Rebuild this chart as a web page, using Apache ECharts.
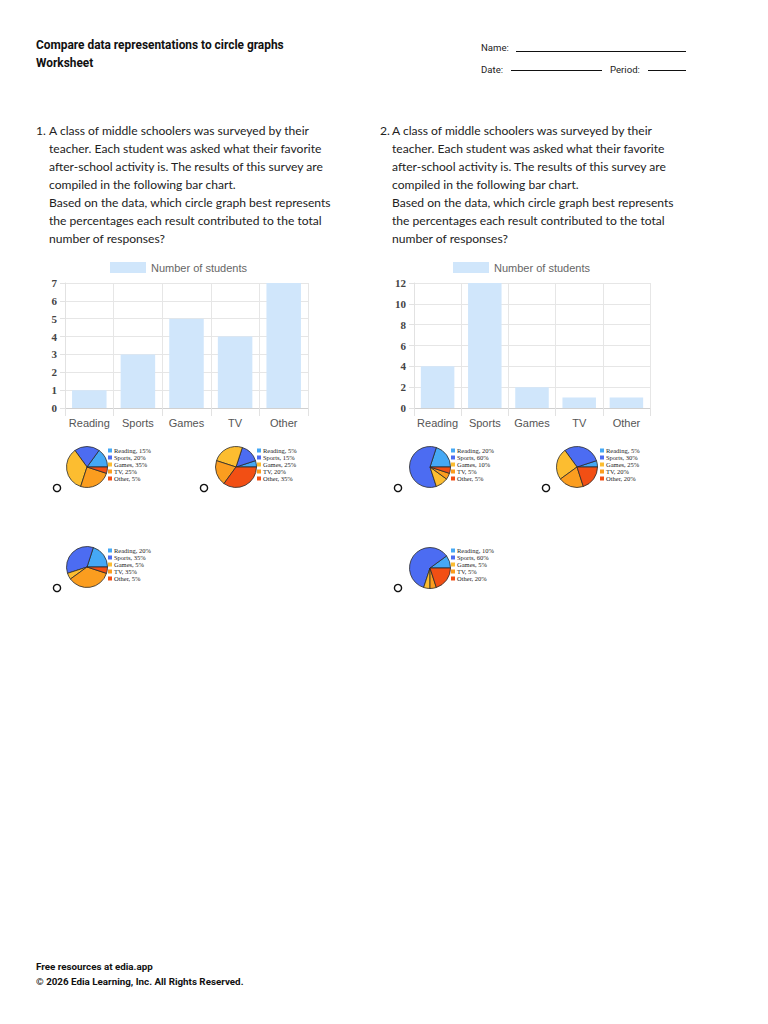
<!DOCTYPE html>
<html>
<head>
<meta charset="utf-8">
<script src="https://cdn.jsdelivr.net/npm/echarts@6/dist/echarts.min.js"></script>
<style>
html,body{margin:0;padding:0;background:#fff;}
#c{width:768px;height:1024px;}
</style>
</head>
<body>
<div id="c"></div>
<script>
// ---- data ----
const categories = ['Reading', 'Sports', 'Games', 'TV', 'Other'];
const q1Counts = [1, 3, 5, 4, 7];
const q2Counts = [4, 12, 2, 1, 1];
const q1AxisMax = 7, q1AxisStep = 1;
const q2AxisMax = 12, q2AxisStep = 2;
const q1OptionA = [15, 20, 35, 25, 5];
const q1OptionB = [5, 15, 25, 20, 35];
const q1OptionC = [20, 35, 5, 35, 5];
const q2OptionA = [20, 60, 10, 5, 5];
const q2OptionB = [5, 30, 25, 20, 20];
const q2OptionC = [10, 60, 5, 5, 20];
const seriesName = 'Number of students';
const sliceColors = ['#45a8f5', '#4c6cf2', '#fcbd30', '#fb9d1f', '#f24f14'];

const q1Lines = [
  'A class of middle schoolers was surveyed by their',
  'teacher. Each student was asked what their favorite',
  'after-school activity is. The results of this survey are',
  'compiled in the following bar chart.',
  'Based on the data, which circle graph best represents',
  'the percentages each result contributed to the total',
  'number of responses?'
];
const q2Lines = q1Lines;

// ---- layout ----
const bodyFont = '12.1px Lato';
const graphics = [];
function txt(x, y, text, font, fill, align) {
  graphics.push({type: 'text', silent: true, style: {x: x, y: y, text: text, font: font, fill: fill || '#222', align: align || 'left', verticalAlign: 'middle'}});
}
function line(x1, y1, x2, y2) {
  graphics.push({type: 'line', silent: true, shape: {x1: x1, y1: y1, x2: x2, y2: y2}, style: {stroke: '#111', lineWidth: 1}});
}
function radio(cx, cy) {
  graphics.push({type: 'circle', silent: true, shape: {cx: cx, cy: cy, r: 3.6}, style: {fill: '#fff', stroke: '#111', lineWidth: 1.4}});
}

txt(36, 45, 'Compare data representations to circle graphs', 'bold 11.9px Roboto', '#111');
txt(36, 63, 'Worksheet', 'bold 11.9px Roboto', '#111');
txt(481, 47, 'Name:', '9.6px Roboto', '#222');
line(516, 51.5, 686, 51.5);
txt(481, 69, 'Date:', '9.6px Roboto', '#222');
line(511, 70.5, 602, 70.5);
txt(610, 69, 'Period:', '9.6px Roboto', '#222');
line(648, 70.5, 686, 70.5);

txt(36, 130, '1.', bodyFont, '#222');
txt(380, 130, '2.', bodyFont, '#222');
q1Lines.forEach((t, i) => txt(49, 130 + i * 18, t, bodyFont, '#222'));
q2Lines.forEach((t, i) => txt(392, 130 + i * 18, t, bodyFont, '#222'));

// radio buttons
[[57, 488], [204, 488], [57, 588], [398, 488], [546, 488], [398, 588]].forEach(p => radio(p[0], p[1]));

txt(36, 966, 'Free resources at edia.app', 'bold 9.8px Roboto', '#111');
txt(36, 981, '\u00a9 2026 Edia Learning, Inc. All Rights Reserved.', 'bold 9.8px Roboto', '#111');

// ---- bar charts ----
const grids = [
  {left: 65, top: 283, width: 243, height: 125},
  {left: 414, top: 283, width: 236, height: 125}
];
const axisCommon = {
  xAxis: {
    type: 'category', data: categories,
    axisLine: {lineStyle: {color: '#d0d0d0'}},
    axisTick: {show: true, length: 8, lineStyle: {color: '#e2e2e2'}},
    splitLine: {show: true, lineStyle: {color: '#e6e6e6'}},
    axisLabel: {color: '#555', fontFamily: 'Liberation Sans', fontSize: 11, margin: 9, interval: 0}
  },
  yAxis: {
    type: 'value', min: 0,
    axisLine: {show: true, lineStyle: {color: '#e2e2e2'}},
    axisTick: {show: true, length: 5, lineStyle: {color: '#e2e2e2'}},
    splitLine: {show: true, lineStyle: {color: '#e6e6e6'}},
    axisLabel: {color: '#444', fontFamily: 'Liberation Serif', fontWeight: 'bold', fontSize: 11, margin: 8}
  }
};
const xAxes = [0, 1].map(i => Object.assign({gridIndex: i}, JSON.parse(JSON.stringify(axisCommon.xAxis))));
const yAxes = [
  Object.assign({gridIndex: 0, max: q1AxisMax, interval: q1AxisStep}, JSON.parse(JSON.stringify(axisCommon.yAxis))),
  Object.assign({gridIndex: 1, max: q2AxisMax, interval: q2AxisStep}, JSON.parse(JSON.stringify(axisCommon.yAxis)))
];

const barColor = '#d0e6fb';
const series = [
  {type: 'bar', name: seriesName, xAxisIndex: 0, yAxisIndex: 0, data: q1Counts, barCategoryGap: '29%', itemStyle: {color: barColor}, silent: true},
  {type: 'bar', name: seriesName, xAxisIndex: 1, yAxisIndex: 1, data: q2Counts, barCategoryGap: '29%', itemStyle: {color: barColor}, silent: true}
];

const legends = [
  {left: 110, top: 262, padding: 0, itemWidth: 36, itemHeight: 11, data: [seriesName], selectedMode: false, icon: 'rect',
   textStyle: {color: '#666', fontFamily: 'Liberation Sans', fontSize: 11}},
  {left: 453, top: 262, padding: 0, itemWidth: 36, itemHeight: 11, data: [seriesName], selectedMode: false, icon: 'rect',
   textStyle: {color: '#666', fontFamily: 'Liberation Sans', fontSize: 11}}
];

// ---- pie options ----
const pies = [
  {vals: q1OptionA, cx: 87, cy: 467, lx: 108, ly: 447},
  {vals: q1OptionB, cx: 236, cy: 467, lx: 257, ly: 447},
  {vals: q1OptionC, cx: 87, cy: 567, lx: 108, ly: 547},
  {vals: q2OptionA, cx: 430, cy: 467, lx: 451, ly: 447},
  {vals: q2OptionB, cx: 577, cy: 467, lx: 600, ly: 447},
  {vals: q2OptionC, cx: 430, cy: 568, lx: 451, ly: 547}
];
pies.forEach((p, k) => {
  const names = categories.map((c, i) => c + ', ' + p.vals[i] + '%');
  series.push({
    type: 'pie', name: 'pie' + k, center: [p.cx, p.cy], radius: 20.5,
    startAngle: 0, clockwise: false, silent: true, animation: false,
    label: {show: false}, labelLine: {show: false},
    itemStyle: {borderColor: '#2a2a2a', borderWidth: 0.8},
    data: categories.map((c, i) => ({name: names[i], value: p.vals[i], itemStyle: {color: sliceColors[i]}}))
  });
  legends.push({
    left: p.lx, top: p.ly, padding: 0, orient: 'vertical', itemWidth: 4, itemHeight: 4, itemGap: 0,
    icon: 'rect', selectedMode: false, data: names,
    itemStyle: {borderWidth: 0},
    textStyle: {color: '#222', fontFamily: 'Liberation Serif', fontSize: 6.5, lineHeight: 6, padding: [0, 0, 0, -3]}
  });
});

const chart = echarts.init(document.getElementById('c'), null, {renderer: 'svg', width: 768, height: 1024});
chart.setOption({
  animation: false,
  backgroundColor: '#fff',
  grid: grids,
  xAxis: xAxes,
  yAxis: yAxes,
  legend: legends,
  series: series,
  graphic: graphics
});
</script>
</body>
</html>
